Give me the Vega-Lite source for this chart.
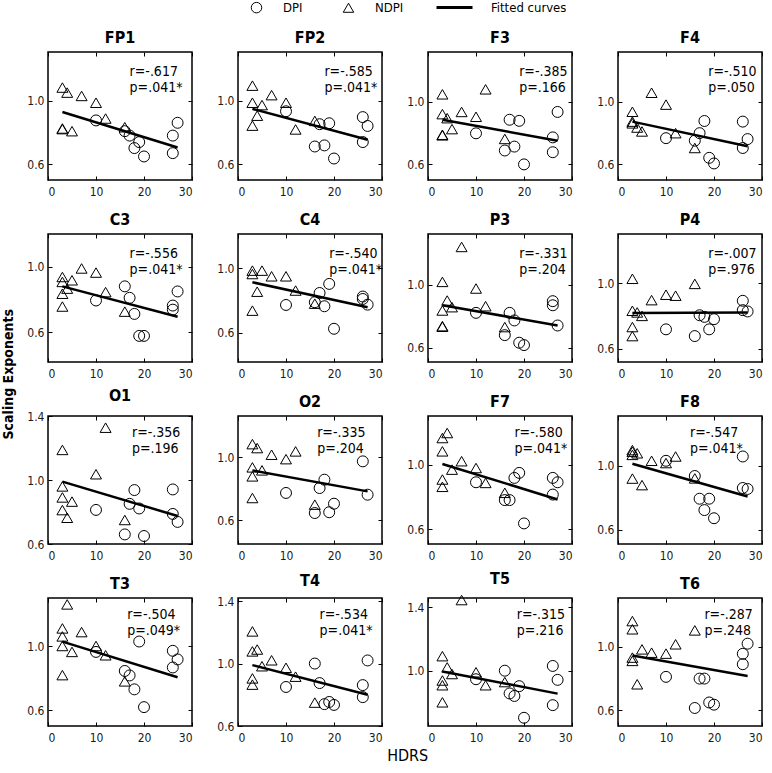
{
"$schema":"https://vega.github.io/schema/vega-lite/v6.json",
"padding":{"left":2,"top":1,"right":2,"bottom":2},
"datasets":{
"pts":[
{"p":"FP1","g":"NDPI","x":3,"y":1.085},{"p":"FP1","g":"NDPI","x":3,"y":0.826},{"p":"FP1","g":"NDPI","x":3,"y":0.822},{"p":"FP1","g":"NDPI","x":4,"y":1.053},{"p":"FP1","g":"NDPI","x":5,"y":0.809},{"p":"FP1","g":"NDPI","x":7,"y":1.032},{"p":"FP1","g":"NDPI","x":10,"y":0.989},{"p":"FP1","g":"NDPI","x":12,"y":0.889},{"p":"FP1","g":"NDPI","x":16,"y":0.834},
{"p":"FP1","g":"DPI","x":10,"y":0.877},{"p":"FP1","g":"DPI","x":16,"y":0.809},{"p":"FP1","g":"DPI","x":17,"y":0.781},{"p":"FP1","g":"DPI","x":18,"y":0.702},{"p":"FP1","g":"DPI","x":19,"y":0.740},{"p":"FP1","g":"DPI","x":20,"y":0.649},{"p":"FP1","g":"DPI","x":26,"y":0.781},{"p":"FP1","g":"DPI","x":26,"y":0.670},{"p":"FP1","g":"DPI","x":27,"y":0.862},
{"p":"FP2","g":"NDPI","x":3,"y":1.097},{"p":"FP2","g":"NDPI","x":3,"y":0.989},{"p":"FP2","g":"NDPI","x":3,"y":0.844},{"p":"FP2","g":"NDPI","x":4,"y":0.907},{"p":"FP2","g":"NDPI","x":5,"y":0.974},{"p":"FP2","g":"NDPI","x":7,"y":1.037},{"p":"FP2","g":"NDPI","x":10,"y":0.989},{"p":"FP2","g":"NDPI","x":12,"y":0.820},{"p":"FP2","g":"NDPI","x":16,"y":0.874},
{"p":"FP2","g":"DPI","x":10,"y":0.935},{"p":"FP2","g":"DPI","x":16,"y":0.712},{"p":"FP2","g":"DPI","x":17,"y":0.853},{"p":"FP2","g":"DPI","x":18,"y":0.719},{"p":"FP2","g":"DPI","x":19,"y":0.859},{"p":"FP2","g":"DPI","x":20,"y":0.636},{"p":"FP2","g":"DPI","x":26,"y":0.898},{"p":"FP2","g":"DPI","x":26,"y":0.740},{"p":"FP2","g":"DPI","x":27,"y":0.842},
{"p":"F3","g":"NDPI","x":3,"y":1.049},{"p":"F3","g":"NDPI","x":3,"y":0.922},{"p":"F3","g":"NDPI","x":3,"y":0.790},{"p":"F3","g":"NDPI","x":3,"y":0.786},{"p":"F3","g":"NDPI","x":4,"y":0.896},{"p":"F3","g":"NDPI","x":5,"y":0.826},{"p":"F3","g":"NDPI","x":7,"y":0.936},{"p":"F3","g":"NDPI","x":10,"y":0.905},{"p":"F3","g":"NDPI","x":12,"y":1.081},{"p":"F3","g":"NDPI","x":16,"y":0.763},
{"p":"F3","g":"DPI","x":10,"y":0.799},{"p":"F3","g":"DPI","x":16,"y":0.689},{"p":"F3","g":"DPI","x":17,"y":0.886},{"p":"F3","g":"DPI","x":18,"y":0.714},{"p":"F3","g":"DPI","x":19,"y":0.879},{"p":"F3","g":"DPI","x":20,"y":0.600},{"p":"F3","g":"DPI","x":26,"y":0.773},{"p":"F3","g":"DPI","x":26,"y":0.678},{"p":"F3","g":"DPI","x":27,"y":0.936},
{"p":"F4","g":"NDPI","x":3,"y":0.937},{"p":"F4","g":"NDPI","x":3,"y":0.874},{"p":"F4","g":"NDPI","x":3,"y":0.863},{"p":"F4","g":"NDPI","x":4,"y":0.836},{"p":"F4","g":"NDPI","x":5,"y":0.811},{"p":"F4","g":"NDPI","x":7,"y":1.059},{"p":"F4","g":"NDPI","x":10,"y":0.983},{"p":"F4","g":"NDPI","x":12,"y":0.800},{"p":"F4","g":"NDPI","x":16,"y":0.705},
{"p":"F4","g":"DPI","x":10,"y":0.768},{"p":"F4","g":"DPI","x":16,"y":0.752},{"p":"F4","g":"DPI","x":17,"y":0.800},{"p":"F4","g":"DPI","x":18,"y":0.878},{"p":"F4","g":"DPI","x":19,"y":0.642},{"p":"F4","g":"DPI","x":20,"y":0.606},{"p":"F4","g":"DPI","x":26,"y":0.874},{"p":"F4","g":"DPI","x":26,"y":0.705},{"p":"F4","g":"DPI","x":27,"y":0.762},
{"p":"C3","g":"NDPI","x":3,"y":0.938},{"p":"C3","g":"NDPI","x":3,"y":0.908},{"p":"C3","g":"NDPI","x":3,"y":0.836},{"p":"C3","g":"NDPI","x":3,"y":0.758},{"p":"C3","g":"NDPI","x":4,"y":0.867},{"p":"C3","g":"NDPI","x":5,"y":0.918},{"p":"C3","g":"NDPI","x":7,"y":0.990},{"p":"C3","g":"NDPI","x":10,"y":0.965},{"p":"C3","g":"NDPI","x":12,"y":0.846},{"p":"C3","g":"NDPI","x":16,"y":0.727},
{"p":"C3","g":"DPI","x":10,"y":0.795},{"p":"C3","g":"DPI","x":16,"y":0.881},{"p":"C3","g":"DPI","x":17,"y":0.811},{"p":"C3","g":"DPI","x":18,"y":0.713},{"p":"C3","g":"DPI","x":19,"y":0.579},{"p":"C3","g":"DPI","x":20,"y":0.579},{"p":"C3","g":"DPI","x":26,"y":0.764},{"p":"C3","g":"DPI","x":26,"y":0.739},{"p":"C3","g":"DPI","x":27,"y":0.850},
{"p":"C4","g":"NDPI","x":3,"y":0.984},{"p":"C4","g":"NDPI","x":3,"y":0.963},{"p":"C4","g":"NDPI","x":3,"y":0.737},{"p":"C4","g":"NDPI","x":4,"y":0.854},{"p":"C4","g":"NDPI","x":5,"y":0.984},{"p":"C4","g":"NDPI","x":7,"y":0.949},{"p":"C4","g":"NDPI","x":10,"y":0.949},{"p":"C4","g":"NDPI","x":12,"y":0.861},{"p":"C4","g":"NDPI","x":16,"y":0.780},
{"p":"C4","g":"DPI","x":10,"y":0.772},{"p":"C4","g":"DPI","x":16,"y":0.789},{"p":"C4","g":"DPI","x":17,"y":0.846},{"p":"C4","g":"DPI","x":18,"y":0.764},{"p":"C4","g":"DPI","x":19,"y":0.902},{"p":"C4","g":"DPI","x":20,"y":0.625},{"p":"C4","g":"DPI","x":26,"y":0.824},{"p":"C4","g":"DPI","x":26,"y":0.809},{"p":"C4","g":"DPI","x":27,"y":0.774},
{"p":"P3","g":"NDPI","x":3,"y":1.017},{"p":"P3","g":"NDPI","x":3,"y":0.836},{"p":"P3","g":"NDPI","x":3,"y":0.737},{"p":"P3","g":"NDPI","x":3,"y":0.733},{"p":"P3","g":"NDPI","x":4,"y":0.899},{"p":"P3","g":"NDPI","x":5,"y":0.857},{"p":"P3","g":"NDPI","x":7,"y":1.238},{"p":"P3","g":"NDPI","x":10,"y":0.975},{"p":"P3","g":"NDPI","x":12,"y":0.863},{"p":"P3","g":"NDPI","x":16,"y":0.731},
{"p":"P3","g":"DPI","x":10,"y":0.821},{"p":"P3","g":"DPI","x":16,"y":0.680},{"p":"P3","g":"DPI","x":17,"y":0.821},{"p":"P3","g":"DPI","x":18,"y":0.773},{"p":"P3","g":"DPI","x":19,"y":0.632},{"p":"P3","g":"DPI","x":20,"y":0.617},{"p":"P3","g":"DPI","x":26,"y":0.895},{"p":"P3","g":"DPI","x":26,"y":0.869},{"p":"P3","g":"DPI","x":27,"y":0.741},
{"p":"P4","g":"NDPI","x":3,"y":1.027},{"p":"P4","g":"NDPI","x":3,"y":0.832},{"p":"P4","g":"NDPI","x":3,"y":0.733},{"p":"P4","g":"NDPI","x":3,"y":0.678},{"p":"P4","g":"NDPI","x":4,"y":0.822},{"p":"P4","g":"NDPI","x":5,"y":0.801},{"p":"P4","g":"NDPI","x":7,"y":0.897},{"p":"P4","g":"NDPI","x":10,"y":0.930},{"p":"P4","g":"NDPI","x":12,"y":0.924},{"p":"P4","g":"NDPI","x":16,"y":0.996},
{"p":"P4","g":"DPI","x":10,"y":0.719},{"p":"P4","g":"DPI","x":16,"y":0.678},{"p":"P4","g":"DPI","x":17,"y":0.805},{"p":"P4","g":"DPI","x":18,"y":0.795},{"p":"P4","g":"DPI","x":19,"y":0.719},{"p":"P4","g":"DPI","x":20,"y":0.781},{"p":"P4","g":"DPI","x":26,"y":0.893},{"p":"P4","g":"DPI","x":26,"y":0.836},{"p":"P4","g":"DPI","x":27,"y":0.828},
{"p":"O1","g":"NDPI","x":3,"y":1.188},{"p":"O1","g":"NDPI","x":3,"y":0.960},{"p":"O1","g":"NDPI","x":3,"y":0.891},{"p":"O1","g":"NDPI","x":3,"y":0.812},{"p":"O1","g":"NDPI","x":4,"y":0.764},{"p":"O1","g":"NDPI","x":5,"y":0.865},{"p":"O1","g":"NDPI","x":10,"y":1.036},{"p":"O1","g":"NDPI","x":12,"y":1.327},{"p":"O1","g":"NDPI","x":16,"y":0.750},
{"p":"O1","g":"DPI","x":10,"y":0.813},{"p":"O1","g":"DPI","x":16,"y":0.660},{"p":"O1","g":"DPI","x":17,"y":0.851},{"p":"O1","g":"DPI","x":18,"y":0.937},{"p":"O1","g":"DPI","x":19,"y":0.822},{"p":"O1","g":"DPI","x":20,"y":0.650},{"p":"O1","g":"DPI","x":26,"y":0.941},{"p":"O1","g":"DPI","x":26,"y":0.788},{"p":"O1","g":"DPI","x":27,"y":0.738},
{"p":"O2","g":"NDPI","x":3,"y":1.082},{"p":"O2","g":"NDPI","x":3,"y":0.935},{"p":"O2","g":"NDPI","x":3,"y":0.878},{"p":"O2","g":"NDPI","x":3,"y":0.741},{"p":"O2","g":"NDPI","x":4,"y":1.057},{"p":"O2","g":"NDPI","x":5,"y":0.916},{"p":"O2","g":"NDPI","x":7,"y":1.015},{"p":"O2","g":"NDPI","x":10,"y":0.987},{"p":"O2","g":"NDPI","x":12,"y":1.036},{"p":"O2","g":"NDPI","x":16,"y":0.699},
{"p":"O2","g":"DPI","x":10,"y":0.773},{"p":"O2","g":"DPI","x":16,"y":0.646},{"p":"O2","g":"DPI","x":17,"y":0.804},{"p":"O2","g":"DPI","x":18,"y":0.857},{"p":"O2","g":"DPI","x":19,"y":0.651},{"p":"O2","g":"DPI","x":20,"y":0.705},{"p":"O2","g":"DPI","x":26,"y":0.973},{"p":"O2","g":"DPI","x":27,"y":0.762},
{"p":"F7","g":"NDPI","x":3,"y":1.164},{"p":"F7","g":"NDPI","x":3,"y":1.082},{"p":"F7","g":"NDPI","x":3,"y":0.908},{"p":"F7","g":"NDPI","x":3,"y":0.863},{"p":"F7","g":"NDPI","x":4,"y":1.195},{"p":"F7","g":"NDPI","x":5,"y":0.969},{"p":"F7","g":"NDPI","x":7,"y":1.021},{"p":"F7","g":"NDPI","x":10,"y":0.979},{"p":"F7","g":"NDPI","x":12,"y":0.887},{"p":"F7","g":"NDPI","x":16,"y":0.826},
{"p":"F7","g":"DPI","x":10,"y":0.891},{"p":"F7","g":"DPI","x":16,"y":0.781},{"p":"F7","g":"DPI","x":17,"y":0.781},{"p":"F7","g":"DPI","x":18,"y":0.918},{"p":"F7","g":"DPI","x":19,"y":0.949},{"p":"F7","g":"DPI","x":20,"y":0.637},{"p":"F7","g":"DPI","x":26,"y":0.918},{"p":"F7","g":"DPI","x":26,"y":0.815},{"p":"F7","g":"DPI","x":27,"y":0.891},
{"p":"F8","g":"NDPI","x":3,"y":1.097},{"p":"F8","g":"NDPI","x":3,"y":1.087},{"p":"F8","g":"NDPI","x":3,"y":1.067},{"p":"F8","g":"NDPI","x":3,"y":0.919},{"p":"F8","g":"NDPI","x":4,"y":1.077},{"p":"F8","g":"NDPI","x":5,"y":0.878},{"p":"F8","g":"NDPI","x":7,"y":1.030},{"p":"F8","g":"NDPI","x":10,"y":1.016},{"p":"F8","g":"NDPI","x":12,"y":1.057},{"p":"F8","g":"NDPI","x":16,"y":0.920},
{"p":"F8","g":"DPI","x":10,"y":1.030},{"p":"F8","g":"DPI","x":16,"y":0.935},{"p":"F8","g":"DPI","x":17,"y":0.793},{"p":"F8","g":"DPI","x":18,"y":0.722},{"p":"F8","g":"DPI","x":19,"y":0.793},{"p":"F8","g":"DPI","x":20,"y":0.671},{"p":"F8","g":"DPI","x":26,"y":1.057},{"p":"F8","g":"DPI","x":26,"y":0.860},{"p":"F8","g":"DPI","x":27,"y":0.854},
{"p":"T3","g":"NDPI","x":3,"y":1.110},{"p":"T3","g":"NDPI","x":3,"y":1.060},{"p":"T3","g":"NDPI","x":3,"y":1.000},{"p":"T3","g":"NDPI","x":3,"y":0.818},{"p":"T3","g":"NDPI","x":4,"y":1.260},{"p":"T3","g":"NDPI","x":5,"y":0.963},{"p":"T3","g":"NDPI","x":7,"y":1.087},{"p":"T3","g":"NDPI","x":10,"y":1.000},{"p":"T3","g":"NDPI","x":12,"y":0.942},{"p":"T3","g":"NDPI","x":16,"y":0.779},
{"p":"T3","g":"DPI","x":10,"y":0.963},{"p":"T3","g":"DPI","x":16,"y":0.844},{"p":"T3","g":"DPI","x":17,"y":0.816},{"p":"T3","g":"DPI","x":18,"y":0.729},{"p":"T3","g":"DPI","x":19,"y":1.028},{"p":"T3","g":"DPI","x":20,"y":0.618},{"p":"T3","g":"DPI","x":26,"y":0.970},{"p":"T3","g":"DPI","x":26,"y":0.866},{"p":"T3","g":"DPI","x":27,"y":0.916},
{"p":"T4","g":"NDPI","x":3,"y":1.206},{"p":"T4","g":"NDPI","x":3,"y":1.078},{"p":"T4","g":"NDPI","x":3,"y":0.905},{"p":"T4","g":"NDPI","x":3,"y":0.865},{"p":"T4","g":"NDPI","x":4,"y":1.090},{"p":"T4","g":"NDPI","x":5,"y":0.983},{"p":"T4","g":"NDPI","x":7,"y":1.021},{"p":"T4","g":"NDPI","x":10,"y":0.973},{"p":"T4","g":"NDPI","x":12,"y":0.916},{"p":"T4","g":"NDPI","x":16,"y":0.750},
{"p":"T4","g":"DPI","x":10,"y":0.850},{"p":"T4","g":"DPI","x":16,"y":1.000},{"p":"T4","g":"DPI","x":17,"y":0.875},{"p":"T4","g":"DPI","x":18,"y":0.740},{"p":"T4","g":"DPI","x":19,"y":0.754},{"p":"T4","g":"DPI","x":20,"y":0.735},{"p":"T4","g":"DPI","x":26,"y":0.862},{"p":"T4","g":"DPI","x":26,"y":0.785},{"p":"T4","g":"DPI","x":27,"y":1.020},
{"p":"T5","g":"NDPI","x":3,"y":1.092},{"p":"T5","g":"NDPI","x":3,"y":0.938},{"p":"T5","g":"NDPI","x":3,"y":0.908},{"p":"T5","g":"NDPI","x":3,"y":0.800},{"p":"T5","g":"NDPI","x":4,"y":1.021},{"p":"T5","g":"NDPI","x":5,"y":0.979},{"p":"T5","g":"NDPI","x":7,"y":1.447},{"p":"T5","g":"NDPI","x":10,"y":0.990},{"p":"T5","g":"NDPI","x":12,"y":0.908},{"p":"T5","g":"NDPI","x":16,"y":0.928},
{"p":"T5","g":"DPI","x":10,"y":0.946},{"p":"T5","g":"DPI","x":16,"y":1.000},{"p":"T5","g":"DPI","x":17,"y":0.856},{"p":"T5","g":"DPI","x":18,"y":0.840},{"p":"T5","g":"DPI","x":19,"y":0.902},{"p":"T5","g":"DPI","x":20,"y":0.702},{"p":"T5","g":"DPI","x":26,"y":1.030},{"p":"T5","g":"DPI","x":26,"y":0.782},{"p":"T5","g":"DPI","x":27,"y":0.942},
{"p":"T6","g":"NDPI","x":3,"y":1.164},{"p":"T6","g":"NDPI","x":3,"y":1.112},{"p":"T6","g":"NDPI","x":3,"y":0.933},{"p":"T6","g":"NDPI","x":3,"y":0.912},{"p":"T6","g":"NDPI","x":4,"y":0.764},{"p":"T6","g":"NDPI","x":5,"y":0.985},{"p":"T6","g":"NDPI","x":7,"y":0.964},{"p":"T6","g":"NDPI","x":10,"y":0.958},{"p":"T6","g":"NDPI","x":12,"y":1.017},{"p":"T6","g":"NDPI","x":16,"y":1.105},
{"p":"T6","g":"DPI","x":10,"y":0.811},{"p":"T6","g":"DPI","x":16,"y":0.614},{"p":"T6","g":"DPI","x":17,"y":0.800},{"p":"T6","g":"DPI","x":18,"y":0.800},{"p":"T6","g":"DPI","x":19,"y":0.649},{"p":"T6","g":"DPI","x":20,"y":0.635},{"p":"T6","g":"DPI","x":26,"y":0.957},{"p":"T6","g":"DPI","x":26,"y":0.891},{"p":"T6","g":"DPI","x":27,"y":1.021}
],
"fits":[
{"p":"FP1","x":3,"y":0.930},{"p":"FP1","x":27,"y":0.706},
{"p":"FP2","x":3,"y":0.950},{"p":"FP2","x":27,"y":0.755},
{"p":"F3","x":3,"y":0.886},{"p":"F3","x":27,"y":0.752},
{"p":"F4","x":3,"y":0.874},{"p":"F4","x":27,"y":0.716},
{"p":"C3","x":3,"y":0.881},{"p":"C3","x":27,"y":0.696},
{"p":"C4","x":3,"y":0.912},{"p":"C4","x":27,"y":0.758},
{"p":"P3","x":3,"y":0.869},{"p":"P3","x":27,"y":0.741},
{"p":"P4","x":3,"y":0.818},{"p":"P4","x":27,"y":0.822},
{"p":"O1","x":3,"y":0.990},{"p":"O1","x":27,"y":0.775},
{"p":"O2","x":3,"y":0.916},{"p":"O2","x":27,"y":0.783},
{"p":"F7","x":3,"y":1.004},{"p":"F7","x":27,"y":0.785},
{"p":"F8","x":3,"y":1.012},{"p":"F8","x":27,"y":0.807},
{"p":"T3","x":3,"y":1.027},{"p":"T3","x":27,"y":0.805},
{"p":"T4","x":3,"y":0.990},{"p":"T4","x":27,"y":0.800},
{"p":"T5","x":3,"y":0.995},{"p":"T5","x":27,"y":0.855},
{"p":"T6","x":3,"y":0.946},{"p":"T6","x":27,"y":0.817}
],
"stats":[
{"p":"FP1","t":"r=-.617\np=.041*"},{"p":"FP2","t":"r=-.585\np=.041*"},{"p":"F3","t":"r=-.385\np=.166"},{"p":"F4","t":"r=-.510\np=.050"},
{"p":"C3","t":"r=-.556\np=.041*"},{"p":"C4","t":"r=-.540\np=.041*"},{"p":"P3","t":"r=-.331\np=.204"},{"p":"P4","t":"r=-.007\np=.976"},
{"p":"O1","t":"r=-.356\np=.196"},{"p":"O2","t":"r=-.335\np=.204"},{"p":"F7","t":"r=-.580\np=.041*"},{"p":"F8","t":"r=-.547\np=.041*"},
{"p":"T3","t":"r=-.504\np=.049*"},{"p":"T4","t":"r=-.534\np=.041*"},{"p":"T5","t":"r=-.315\np=.216"},{"p":"T6","t":"r=-.287\np=.248"}
]
},
"title":{"text":"HDRS","orient":"bottom","anchor":"middle","fontSize":16,"fontWeight":"normal","offset":4,"dx":25},
"bounds":"flush",
"vconcat":[{
"title":{"text":"Scaling Exponents","orient":"left","anchor":"middle","fontSize":14,"fontWeight":"bold","offset":10,"dx":12},
"columns":4,
"spacing":{"row":54,"column":46},
"bounds":"flush",
"resolve":{"scale":{"shape":"shared","stroke":"shared"},"legend":{"shape":"shared","stroke":"shared"}},
"concat":[
{"title":"FP1","width":144,"height":128,"layer":[
{"data":{"name":"pts"},"transform":[{"filter":"datum.p==='FP1'"}],"mark":{"type":"point","filled":false,"stroke":"black","strokeWidth":1,"size":120,"opacity":1},
"encoding":{"x":{"field":"x","type":"quantitative","scale":{"domain":[0,30],"nice":false},"axis":{"orient":"bottom","values":[0,10,20,30],"title":null}},
"y":{"field":"y","type":"quantitative","scale":{"domain":[0.5,1.31],"nice":false,"zero":false},"axis":{"orient":"left","values":[0.6,1.0],"format":".1f","title":null}},
"shape":{"field":"g","type":"nominal","scale":{"domain":["DPI","NDPI"],"range":["circle","triangle-up"]},
"legend":{"title":null,"orient":"none","legendX":202,"legendY":-51,"direction":"horizontal","symbolSize":110,"symbolStrokeColor":"black","symbolStrokeWidth":1,"symbolFillColor":"transparent","labelFontSize":13,"labelOffset":20,"columnPadding":38,"padding":0}}}},
{"data":{"name":"fits"},"transform":[{"filter":"datum.p==='FP1'"}],"mark":{"type":"line","strokeWidth":2.5},
"encoding":{"x":{"field":"x","type":"quantitative","axis":{"orient":"top","values":[0,10,20,30],"title":null}},
"y":{"field":"y","type":"quantitative","axis":{"orient":"right","values":[0.6,1.0],"title":null}},
"stroke":{"datum":"Fitted curves","type":"nominal","scale":{"range":["black"]},
"legend":{"title":null,"orient":"none","legendX":400,"legendY":-51,"symbolType":"M-3.6,0H3.6","symbolSize":100,"symbolStrokeWidth":3,"symbolStrokeColor":"black","labelFontSize":13,"labelOffset":30,"padding":0}}}},
{"data":{"name":"stats"},"transform":[{"filter":"datum.p==='FP1'"}],"mark":{"type":"text","align":"left","baseline":"top","dy":13,"fontSize":14,"lineBreak":"\n","lineHeight":16},
"encoding":{"x":{"datum":17,"type":"quantitative","axis":null},"y":{"datum":1.31,"type":"quantitative","axis":null},"text":{"field":"t"}}}
],"resolve":{"axis":{"x":"independent","y":"independent"}}},

{"title":"FP2","width":144,"height":128,"layer":[
{"data":{"name":"pts"},"transform":[{"filter":"datum.p==='FP2'"}],"mark":{"type":"point","filled":false,"stroke":"black","strokeWidth":1,"size":120,"opacity":1},
"encoding":{"x":{"field":"x","type":"quantitative","scale":{"domain":[0,30],"nice":false},"axis":{"orient":"bottom","values":[0,10,20,30],"title":null}},
"y":{"field":"y","type":"quantitative","scale":{"domain":[0.5,1.31],"nice":false,"zero":false},"axis":{"orient":"left","values":[0.6,1.0],"format":".1f","title":null}},
"shape":{"field":"g","type":"nominal","scale":{"domain":["DPI","NDPI"],"range":["circle","triangle-up"]}}}},
{"data":{"name":"fits"},"transform":[{"filter":"datum.p==='FP2'"}],"mark":{"type":"line","strokeWidth":2.5},
"encoding":{"x":{"field":"x","type":"quantitative","axis":{"orient":"top","values":[0,10,20,30],"title":null}},
"y":{"field":"y","type":"quantitative","axis":{"orient":"right","values":[0.6,1.0],"title":null}},
"stroke":{"datum":"Fitted curves","type":"nominal","scale":{"range":["black"]}}}},
{"data":{"name":"stats"},"transform":[{"filter":"datum.p==='FP2'"}],"mark":{"type":"text","align":"left","baseline":"top","dy":13,"fontSize":14,"lineBreak":"\n","lineHeight":16},
"encoding":{"x":{"datum":18,"type":"quantitative","axis":null},"y":{"datum":1.31,"type":"quantitative","axis":null},"text":{"field":"t"}}}
],"resolve":{"axis":{"x":"independent","y":"independent"}}},

{"title":"F3","width":144,"height":128,"layer":[
{"data":{"name":"pts"},"transform":[{"filter":"datum.p==='F3'"}],"mark":{"type":"point","filled":false,"stroke":"black","strokeWidth":1,"size":120,"opacity":1},
"encoding":{"x":{"field":"x","type":"quantitative","scale":{"domain":[0,30],"nice":false},"axis":{"orient":"bottom","values":[0,10,20,30],"title":null}},
"y":{"field":"y","type":"quantitative","scale":{"domain":[0.5,1.32],"nice":false,"zero":false},"axis":{"orient":"left","values":[0.6,1.0],"format":".1f","title":null}},
"shape":{"field":"g","type":"nominal","scale":{"domain":["DPI","NDPI"],"range":["circle","triangle-up"]}}}},
{"data":{"name":"fits"},"transform":[{"filter":"datum.p==='F3'"}],"mark":{"type":"line","strokeWidth":2.5},
"encoding":{"x":{"field":"x","type":"quantitative","axis":{"orient":"top","values":[0,10,20,30],"title":null}},
"y":{"field":"y","type":"quantitative","axis":{"orient":"right","values":[0.6,1.0],"title":null}},
"stroke":{"datum":"Fitted curves","type":"nominal","scale":{"range":["black"]}}}},
{"data":{"name":"stats"},"transform":[{"filter":"datum.p==='F3'"}],"mark":{"type":"text","align":"left","baseline":"top","dy":13,"fontSize":14,"lineBreak":"\n","lineHeight":16},
"encoding":{"x":{"datum":19,"type":"quantitative","axis":null},"y":{"datum":1.32,"type":"quantitative","axis":null},"text":{"field":"t"}}}
],"resolve":{"axis":{"x":"independent","y":"independent"}}},

{"title":"F4","width":144,"height":128,"layer":[
{"data":{"name":"pts"},"transform":[{"filter":"datum.p==='F4'"}],"mark":{"type":"point","filled":false,"stroke":"black","strokeWidth":1,"size":120,"opacity":1},
"encoding":{"x":{"field":"x","type":"quantitative","scale":{"domain":[0,30],"nice":false},"axis":{"orient":"bottom","values":[0,10,20,30],"title":null}},
"y":{"field":"y","type":"quantitative","scale":{"domain":[0.5,1.32],"nice":false,"zero":false},"axis":{"orient":"left","values":[0.6,1.0],"format":".1f","title":null}},
"shape":{"field":"g","type":"nominal","scale":{"domain":["DPI","NDPI"],"range":["circle","triangle-up"]}}}},
{"data":{"name":"fits"},"transform":[{"filter":"datum.p==='F4'"}],"mark":{"type":"line","strokeWidth":2.5},
"encoding":{"x":{"field":"x","type":"quantitative","axis":{"orient":"top","values":[0,10,20,30],"title":null}},
"y":{"field":"y","type":"quantitative","axis":{"orient":"right","values":[0.6,1.0],"title":null}},
"stroke":{"datum":"Fitted curves","type":"nominal","scale":{"range":["black"]}}}},
{"data":{"name":"stats"},"transform":[{"filter":"datum.p==='F4'"}],"mark":{"type":"text","align":"left","baseline":"top","dy":13,"fontSize":14,"lineBreak":"\n","lineHeight":16},
"encoding":{"x":{"datum":18.8,"type":"quantitative","axis":null},"y":{"datum":1.32,"type":"quantitative","axis":null},"text":{"field":"t"}}}
],"resolve":{"axis":{"x":"independent","y":"independent"}}},

{"title":"C3","width":144,"height":128,"layer":[
{"data":{"name":"pts"},"transform":[{"filter":"datum.p==='C3'"}],"mark":{"type":"point","filled":false,"stroke":"black","strokeWidth":1,"size":120,"opacity":1},
"encoding":{"x":{"field":"x","type":"quantitative","scale":{"domain":[0,30],"nice":false},"axis":{"orient":"bottom","values":[0,10,20,30],"title":null}},
"y":{"field":"y","type":"quantitative","scale":{"domain":[0.42,1.2],"nice":false,"zero":false},"axis":{"orient":"left","values":[0.6,1.0],"format":".1f","title":null}},
"shape":{"field":"g","type":"nominal","scale":{"domain":["DPI","NDPI"],"range":["circle","triangle-up"]}}}},
{"data":{"name":"fits"},"transform":[{"filter":"datum.p==='C3'"}],"mark":{"type":"line","strokeWidth":2.5},
"encoding":{"x":{"field":"x","type":"quantitative","axis":{"orient":"top","values":[0,10,20,30],"title":null}},
"y":{"field":"y","type":"quantitative","axis":{"orient":"right","values":[0.6,1.0],"title":null}},
"stroke":{"datum":"Fitted curves","type":"nominal","scale":{"range":["black"]}}}},
{"data":{"name":"stats"},"transform":[{"filter":"datum.p==='C3'"}],"mark":{"type":"text","align":"left","baseline":"top","dy":13,"fontSize":14,"lineBreak":"\n","lineHeight":16},
"encoding":{"x":{"datum":17,"type":"quantitative","axis":null},"y":{"datum":1.2,"type":"quantitative","axis":null},"text":{"field":"t"}}}
],"resolve":{"axis":{"x":"independent","y":"independent"}}},

{"title":"C4","width":144,"height":128,"layer":[
{"data":{"name":"pts"},"transform":[{"filter":"datum.p==='C4'"}],"mark":{"type":"point","filled":false,"stroke":"black","strokeWidth":1,"size":120,"opacity":1},
"encoding":{"x":{"field":"x","type":"quantitative","scale":{"domain":[0,30],"nice":false},"axis":{"orient":"bottom","values":[0,10,20,30],"title":null}},
"y":{"field":"y","type":"quantitative","scale":{"domain":[0.42,1.21],"nice":false,"zero":false},"axis":{"orient":"left","values":[0.6,1.0],"format":".1f","title":null}},
"shape":{"field":"g","type":"nominal","scale":{"domain":["DPI","NDPI"],"range":["circle","triangle-up"]}}}},
{"data":{"name":"fits"},"transform":[{"filter":"datum.p==='C4'"}],"mark":{"type":"line","strokeWidth":2.5},
"encoding":{"x":{"field":"x","type":"quantitative","axis":{"orient":"top","values":[0,10,20,30],"title":null}},
"y":{"field":"y","type":"quantitative","axis":{"orient":"right","values":[0.6,1.0],"title":null}},
"stroke":{"datum":"Fitted curves","type":"nominal","scale":{"range":["black"]}}}},
{"data":{"name":"stats"},"transform":[{"filter":"datum.p==='C4'"}],"mark":{"type":"text","align":"left","baseline":"top","dy":13,"fontSize":14,"lineBreak":"\n","lineHeight":16},
"encoding":{"x":{"datum":19,"type":"quantitative","axis":null},"y":{"datum":1.21,"type":"quantitative","axis":null},"text":{"field":"t"}}}
],"resolve":{"axis":{"x":"independent","y":"independent"}}},

{"title":"P3","width":144,"height":128,"layer":[
{"data":{"name":"pts"},"transform":[{"filter":"datum.p==='P3'"}],"mark":{"type":"point","filled":false,"stroke":"black","strokeWidth":1,"size":120,"opacity":1},
"encoding":{"x":{"field":"x","type":"quantitative","scale":{"domain":[0,30],"nice":false},"axis":{"orient":"bottom","values":[0,10,20,30],"title":null}},
"y":{"field":"y","type":"quantitative","scale":{"domain":[0.51,1.32],"nice":false,"zero":false},"axis":{"orient":"left","values":[0.6,1.0],"format":".1f","title":null}},
"shape":{"field":"g","type":"nominal","scale":{"domain":["DPI","NDPI"],"range":["circle","triangle-up"]}}}},
{"data":{"name":"fits"},"transform":[{"filter":"datum.p==='P3'"}],"mark":{"type":"line","strokeWidth":2.5},
"encoding":{"x":{"field":"x","type":"quantitative","axis":{"orient":"top","values":[0,10,20,30],"title":null}},
"y":{"field":"y","type":"quantitative","axis":{"orient":"right","values":[0.6,1.0],"title":null}},
"stroke":{"datum":"Fitted curves","type":"nominal","scale":{"range":["black"]}}}},
{"data":{"name":"stats"},"transform":[{"filter":"datum.p==='P3'"}],"mark":{"type":"text","align":"left","baseline":"top","dy":13,"fontSize":14,"lineBreak":"\n","lineHeight":16},
"encoding":{"x":{"datum":19,"type":"quantitative","axis":null},"y":{"datum":1.32,"type":"quantitative","axis":null},"text":{"field":"t"}}}
],"resolve":{"axis":{"x":"independent","y":"independent"}}},

{"title":"P4","width":144,"height":128,"layer":[
{"data":{"name":"pts"},"transform":[{"filter":"datum.p==='P4'"}],"mark":{"type":"point","filled":false,"stroke":"black","strokeWidth":1,"size":120,"opacity":1},
"encoding":{"x":{"field":"x","type":"quantitative","scale":{"domain":[0,30],"nice":false},"axis":{"orient":"bottom","values":[0,10,20,30],"title":null}},
"y":{"field":"y","type":"quantitative","scale":{"domain":[0.52,1.3],"nice":false,"zero":false},"axis":{"orient":"left","values":[0.6,1.0],"format":".1f","title":null}},
"shape":{"field":"g","type":"nominal","scale":{"domain":["DPI","NDPI"],"range":["circle","triangle-up"]}}}},
{"data":{"name":"fits"},"transform":[{"filter":"datum.p==='P4'"}],"mark":{"type":"line","strokeWidth":2.5},
"encoding":{"x":{"field":"x","type":"quantitative","axis":{"orient":"top","values":[0,10,20,30],"title":null}},
"y":{"field":"y","type":"quantitative","axis":{"orient":"right","values":[0.6,1.0],"title":null}},
"stroke":{"datum":"Fitted curves","type":"nominal","scale":{"range":["black"]}}}},
{"data":{"name":"stats"},"transform":[{"filter":"datum.p==='P4'"}],"mark":{"type":"text","align":"left","baseline":"top","dy":13,"fontSize":14,"lineBreak":"\n","lineHeight":16},
"encoding":{"x":{"datum":18.8,"type":"quantitative","axis":null},"y":{"datum":1.3,"type":"quantitative","axis":null},"text":{"field":"t"}}}
],"resolve":{"axis":{"x":"independent","y":"independent"}}},

{"title":"O1","width":144,"height":128,"layer":[
{"data":{"name":"pts"},"transform":[{"filter":"datum.p==='O1'"}],"mark":{"type":"point","filled":false,"stroke":"black","strokeWidth":1,"size":120,"opacity":1},
"encoding":{"x":{"field":"x","type":"quantitative","scale":{"domain":[0,30],"nice":false},"axis":{"orient":"bottom","values":[0,10,20,30],"title":null}},
"y":{"field":"y","type":"quantitative","scale":{"domain":[0.6,1.4],"nice":false,"zero":false},"axis":{"orient":"left","values":[0.6,1.0,1.4],"format":".1f","title":null}},
"shape":{"field":"g","type":"nominal","scale":{"domain":["DPI","NDPI"],"range":["circle","triangle-up"]}}}},
{"data":{"name":"fits"},"transform":[{"filter":"datum.p==='O1'"}],"mark":{"type":"line","strokeWidth":2.5},
"encoding":{"x":{"field":"x","type":"quantitative","axis":{"orient":"top","values":[0,10,20,30],"title":null}},
"y":{"field":"y","type":"quantitative","axis":{"orient":"right","values":[0.6,1.0,1.4],"title":null}},
"stroke":{"datum":"Fitted curves","type":"nominal","scale":{"range":["black"]}}}},
{"data":{"name":"stats"},"transform":[{"filter":"datum.p==='O1'"}],"mark":{"type":"text","align":"left","baseline":"top","dy":10,"fontSize":14,"lineBreak":"\n","lineHeight":16},
"encoding":{"x":{"datum":17.5,"type":"quantitative","axis":null},"y":{"datum":1.4,"type":"quantitative","axis":null},"text":{"field":"t"}}}
],"resolve":{"axis":{"x":"independent","y":"independent"}}},

{"title":"O2","width":144,"height":128,"layer":[
{"data":{"name":"pts"},"transform":[{"filter":"datum.p==='O2'"}],"mark":{"type":"point","filled":false,"stroke":"black","strokeWidth":1,"size":120,"opacity":1},
"encoding":{"x":{"field":"x","type":"quantitative","scale":{"domain":[0,30],"nice":false},"axis":{"orient":"bottom","values":[0,10,20,30],"title":null}},
"y":{"field":"y","type":"quantitative","scale":{"domain":[0.45,1.26],"nice":false,"zero":false},"axis":{"orient":"left","values":[0.6,1.0],"format":".1f","title":null}},
"shape":{"field":"g","type":"nominal","scale":{"domain":["DPI","NDPI"],"range":["circle","triangle-up"]}}}},
{"data":{"name":"fits"},"transform":[{"filter":"datum.p==='O2'"}],"mark":{"type":"line","strokeWidth":2.5},
"encoding":{"x":{"field":"x","type":"quantitative","axis":{"orient":"top","values":[0,10,20,30],"title":null}},
"y":{"field":"y","type":"quantitative","axis":{"orient":"right","values":[0.6,1.0],"title":null}},
"stroke":{"datum":"Fitted curves","type":"nominal","scale":{"range":["black"]}}}},
{"data":{"name":"stats"},"transform":[{"filter":"datum.p==='O2'"}],"mark":{"type":"text","align":"left","baseline":"top","dy":10,"fontSize":14,"lineBreak":"\n","lineHeight":16},
"encoding":{"x":{"datum":16.5,"type":"quantitative","axis":null},"y":{"datum":1.26,"type":"quantitative","axis":null},"text":{"field":"t"}}}
],"resolve":{"axis":{"x":"independent","y":"independent"}}},

{"title":"F7","width":144,"height":128,"layer":[
{"data":{"name":"pts"},"transform":[{"filter":"datum.p==='F7'"}],"mark":{"type":"point","filled":false,"stroke":"black","strokeWidth":1,"size":120,"opacity":1},
"encoding":{"x":{"field":"x","type":"quantitative","scale":{"domain":[0,30],"nice":false},"axis":{"orient":"bottom","values":[0,10,20,30],"title":null}},
"y":{"field":"y","type":"quantitative","scale":{"domain":[0.51,1.3],"nice":false,"zero":false},"axis":{"orient":"left","values":[0.6,1.0],"format":".1f","title":null}},
"shape":{"field":"g","type":"nominal","scale":{"domain":["DPI","NDPI"],"range":["circle","triangle-up"]}}}},
{"data":{"name":"fits"},"transform":[{"filter":"datum.p==='F7'"}],"mark":{"type":"line","strokeWidth":2.5},
"encoding":{"x":{"field":"x","type":"quantitative","axis":{"orient":"top","values":[0,10,20,30],"title":null}},
"y":{"field":"y","type":"quantitative","axis":{"orient":"right","values":[0.6,1.0],"title":null}},
"stroke":{"datum":"Fitted curves","type":"nominal","scale":{"range":["black"]}}}},
{"data":{"name":"stats"},"transform":[{"filter":"datum.p==='F7'"}],"mark":{"type":"text","align":"left","baseline":"top","dy":10,"fontSize":14,"lineBreak":"\n","lineHeight":16},
"encoding":{"x":{"datum":18,"type":"quantitative","axis":null},"y":{"datum":1.3,"type":"quantitative","axis":null},"text":{"field":"t"}}}
],"resolve":{"axis":{"x":"independent","y":"independent"}}},

{"title":"F8","width":144,"height":128,"layer":[
{"data":{"name":"pts"},"transform":[{"filter":"datum.p==='F8'"}],"mark":{"type":"point","filled":false,"stroke":"black","strokeWidth":1,"size":120,"opacity":1},
"encoding":{"x":{"field":"x","type":"quantitative","scale":{"domain":[0,30],"nice":false},"axis":{"orient":"bottom","values":[0,10,20,30],"title":null}},
"y":{"field":"y","type":"quantitative","scale":{"domain":[0.51,1.31],"nice":false,"zero":false},"axis":{"orient":"left","values":[0.6,1.0],"format":".1f","title":null}},
"shape":{"field":"g","type":"nominal","scale":{"domain":["DPI","NDPI"],"range":["circle","triangle-up"]}}}},
{"data":{"name":"fits"},"transform":[{"filter":"datum.p==='F8'"}],"mark":{"type":"line","strokeWidth":2.5},
"encoding":{"x":{"field":"x","type":"quantitative","axis":{"orient":"top","values":[0,10,20,30],"title":null}},
"y":{"field":"y","type":"quantitative","axis":{"orient":"right","values":[0.6,1.0],"title":null}},
"stroke":{"datum":"Fitted curves","type":"nominal","scale":{"range":["black"]}}}},
{"data":{"name":"stats"},"transform":[{"filter":"datum.p==='F8'"}],"mark":{"type":"text","align":"left","baseline":"top","dy":10,"fontSize":14,"lineBreak":"\n","lineHeight":16},
"encoding":{"x":{"datum":15,"type":"quantitative","axis":null},"y":{"datum":1.31,"type":"quantitative","axis":null},"text":{"field":"t"}}}
],"resolve":{"axis":{"x":"independent","y":"independent"}}},

{"title":"T3","width":144,"height":128,"layer":[
{"data":{"name":"pts"},"transform":[{"filter":"datum.p==='T3'"}],"mark":{"type":"point","filled":false,"stroke":"black","strokeWidth":1,"size":120,"opacity":1},
"encoding":{"x":{"field":"x","type":"quantitative","scale":{"domain":[0,30],"nice":false},"axis":{"orient":"bottom","values":[0,10,20,30],"title":null}},
"y":{"field":"y","type":"quantitative","scale":{"domain":[0.5,1.3],"nice":false,"zero":false},"axis":{"orient":"left","values":[0.6,1.0],"format":".1f","title":null}},
"shape":{"field":"g","type":"nominal","scale":{"domain":["DPI","NDPI"],"range":["circle","triangle-up"]}}}},
{"data":{"name":"fits"},"transform":[{"filter":"datum.p==='T3'"}],"mark":{"type":"line","strokeWidth":2.5},
"encoding":{"x":{"field":"x","type":"quantitative","axis":{"orient":"top","values":[0,10,20,30],"title":null}},
"y":{"field":"y","type":"quantitative","axis":{"orient":"right","values":[0.6,1.0],"title":null}},
"stroke":{"datum":"Fitted curves","type":"nominal","scale":{"range":["black"]}}}},
{"data":{"name":"stats"},"transform":[{"filter":"datum.p==='T3'"}],"mark":{"type":"text","align":"left","baseline":"top","dy":10,"fontSize":14,"lineBreak":"\n","lineHeight":16},
"encoding":{"x":{"datum":16.5,"type":"quantitative","axis":null},"y":{"datum":1.3,"type":"quantitative","axis":null},"text":{"field":"t"}}}
],"resolve":{"axis":{"x":"independent","y":"independent"}}},

{"title":"T4","width":144,"height":128,"layer":[
{"data":{"name":"pts"},"transform":[{"filter":"datum.p==='T4'"}],"mark":{"type":"point","filled":false,"stroke":"black","strokeWidth":1,"size":120,"opacity":1},
"encoding":{"x":{"field":"x","type":"quantitative","scale":{"domain":[0,30],"nice":false},"axis":{"orient":"bottom","values":[0,10,20,30],"title":null}},
"y":{"field":"y","type":"quantitative","scale":{"domain":[0.6,1.42],"nice":false,"zero":false},"axis":{"orient":"left","values":[0.6,1.0,1.4],"format":".1f","title":null}},
"shape":{"field":"g","type":"nominal","scale":{"domain":["DPI","NDPI"],"range":["circle","triangle-up"]}}}},
{"data":{"name":"fits"},"transform":[{"filter":"datum.p==='T4'"}],"mark":{"type":"line","strokeWidth":2.5},
"encoding":{"x":{"field":"x","type":"quantitative","axis":{"orient":"top","values":[0,10,20,30],"title":null}},
"y":{"field":"y","type":"quantitative","axis":{"orient":"right","values":[0.6,1.0,1.4],"title":null}},
"stroke":{"datum":"Fitted curves","type":"nominal","scale":{"range":["black"]}}}},
{"data":{"name":"stats"},"transform":[{"filter":"datum.p==='T4'"}],"mark":{"type":"text","align":"left","baseline":"top","dy":10,"fontSize":14,"lineBreak":"\n","lineHeight":16},
"encoding":{"x":{"datum":17,"type":"quantitative","axis":null},"y":{"datum":1.42,"type":"quantitative","axis":null},"text":{"field":"t"}}}
],"resolve":{"axis":{"x":"independent","y":"independent"}}},

{"title":"T5","width":144,"height":128,"layer":[
{"data":{"name":"pts"},"transform":[{"filter":"datum.p==='T5'"}],"mark":{"type":"point","filled":false,"stroke":"black","strokeWidth":1,"size":120,"opacity":1},
"encoding":{"x":{"field":"x","type":"quantitative","scale":{"domain":[0,30],"nice":false},"axis":{"orient":"bottom","values":[0,10,20,30],"title":null}},
"y":{"field":"y","type":"quantitative","scale":{"domain":[0.65,1.46],"nice":false,"zero":false},"axis":{"orient":"left","values":[1.0,1.4],"format":".1f","title":null}},
"shape":{"field":"g","type":"nominal","scale":{"domain":["DPI","NDPI"],"range":["circle","triangle-up"]}}}},
{"data":{"name":"fits"},"transform":[{"filter":"datum.p==='T5'"}],"mark":{"type":"line","strokeWidth":2.5},
"encoding":{"x":{"field":"x","type":"quantitative","axis":{"orient":"top","values":[0,10,20,30],"title":null}},
"y":{"field":"y","type":"quantitative","axis":{"orient":"right","values":[1.0,1.4],"title":null}},
"stroke":{"datum":"Fitted curves","type":"nominal","scale":{"range":["black"]}}}},
{"data":{"name":"stats"},"transform":[{"filter":"datum.p==='T5'"}],"mark":{"type":"text","align":"left","baseline":"top","dy":10,"fontSize":14,"lineBreak":"\n","lineHeight":16},
"encoding":{"x":{"datum":18.5,"type":"quantitative","axis":null},"y":{"datum":1.46,"type":"quantitative","axis":null},"text":{"field":"t"}}}
],"resolve":{"axis":{"x":"independent","y":"independent"}}},

{"title":"T6","width":144,"height":128,"layer":[
{"data":{"name":"pts"},"transform":[{"filter":"datum.p==='T6'"}],"mark":{"type":"point","filled":false,"stroke":"black","strokeWidth":1,"size":120,"opacity":1},
"encoding":{"x":{"field":"x","type":"quantitative","scale":{"domain":[0,30],"nice":false},"axis":{"orient":"bottom","values":[0,10,20,30],"title":null}},
"y":{"field":"y","type":"quantitative","scale":{"domain":[0.5,1.31],"nice":false,"zero":false},"axis":{"orient":"left","values":[0.6,1.0],"format":".1f","title":null}},
"shape":{"field":"g","type":"nominal","scale":{"domain":["DPI","NDPI"],"range":["circle","triangle-up"]}}}},
{"data":{"name":"fits"},"transform":[{"filter":"datum.p==='T6'"}],"mark":{"type":"line","strokeWidth":2.5},
"encoding":{"x":{"field":"x","type":"quantitative","axis":{"orient":"top","values":[0,10,20,30],"title":null}},
"y":{"field":"y","type":"quantitative","axis":{"orient":"right","values":[0.6,1.0],"title":null}},
"stroke":{"datum":"Fitted curves","type":"nominal","scale":{"range":["black"]}}}},
{"data":{"name":"stats"},"transform":[{"filter":"datum.p==='T6'"}],"mark":{"type":"text","align":"left","baseline":"top","dy":10,"fontSize":14,"lineBreak":"\n","lineHeight":16},
"encoding":{"x":{"datum":18,"type":"quantitative","axis":null},"y":{"datum":1.31,"type":"quantitative","axis":null},"text":{"field":"t"}}}
],"resolve":{"axis":{"x":"independent","y":"independent"}}}
]
}],
"resolve":{"scale":{"shape":"shared","stroke":"shared"},"legend":{"shape":"shared","stroke":"shared"}},
"config":{
"font":"DejaVu Sans Condensed, Liberation Sans, sans-serif",
"view":{"stroke":"black","strokeWidth":1.5},
"axis":{"domain":false,"grid":false,"tickColor":"black","tickSize":-4,"tickWidth":1,"labelFontSize":12,"labelColor":"#1a1a1a","labelFont":"DejaVu Sans Condensed, Liberation Sans, sans-serif"},
"axisBottom":{"labelPadding":10},
"axisLeft":{"labelPadding":8},
"axisTop":{"labels":false},
"axisRight":{"labels":false},
"title":{"fontSize":16,"fontWeight":"bold","offset":6,"font":"DejaVu Sans Condensed, Liberation Sans, sans-serif"},
"legend":{"labelFont":"DejaVu Sans Condensed, Liberation Sans, sans-serif"},
"text":{"font":"DejaVu Sans Condensed, Liberation Sans, sans-serif"}
}
}
